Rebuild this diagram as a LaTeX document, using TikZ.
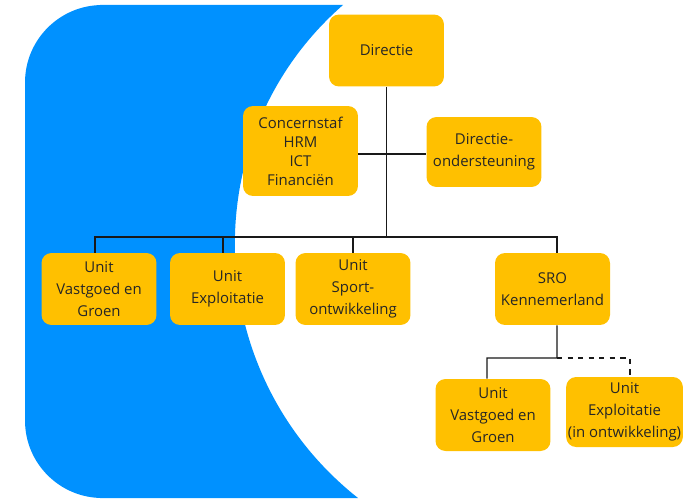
\documentclass[tikz,border=0pt]{standalone}
\usepackage{fontspec}
\setmainfont{Open Sans}
\usetikzlibrary{calc}
\usetikzlibrary{positioning}
\definecolor{unitgold}{HTML}{FFC000}
\definecolor{backblue}{HTML}{0091FF}

\begin{document}
\begin{tikzpicture}[x=0.02cm, y=-0.02cm,
    unitbox/.style={fill=unitgold, rounded corners=0.2cm, align=center,
        minimum width=2.3cm, minimum height=1.44cm, inner sep=1pt,
        text=black!85, font=\fontsize{8.5}{12.5}\selectfont},
    link/.style={line width=0.6pt, black!90}]
    \useasboundingbox (0,0) rectangle (692,500);
    \fill [backblue] (343,5) .. controls (193,136) and (200,373) .. (358,498)
        -- (100,498) [rounded corners=1.55cm] -- (25,498) -- (25,5) [sharp corners] -- (100,5) -- cycle;
    \node [unitbox] (directie) at (386.5,50.5) {Directie};
    \node [unitbox, minimum height=1.8cm, font=\fontsize{8.5}{10.8}\selectfont] (concern) at (300.5,151) {Concernstaf\\HRM\\ICT\\Financiën};
    \node [unitbox, minimum height=1.4cm] (onder) at (484,152) {Directie-\\ondersteuning};
    \node [unitbox] (vastgoed) at (99,289) {Unit\\Vastgoed en\\Groen};
    \node [unitbox] (exploit) at (227.5,289) {Unit\\Exploitatie};
    \node [unitbox] (sport) at (353,289) {Unit\\Sport-\\ontwikkeling};
    \node [unitbox] (sro) at (552.5,289) {SRO\\Kennemerland};
    \node [unitbox] (vastgoedsro) at (493,415) {Unit\\Vastgoed en\\Groen};
    \node [unitbox, minimum height=1.4cm] (exploitsro) at (624.5,412) {Unit\\Exploitatie\\(in ontwikkeling)};
    \coordinate (bus) at (386.5,237);
    \coordinate (staf) at (386.5,154);
    \coordinate (split) at (557,358);
    % drop lines sit a little off the box centres
    \coordinate (vastgoedtop) at ([xshift=-0.08cm]vastgoed.north);
    \coordinate (exploittop) at ([xshift=-0.09cm]exploit.north);
    \coordinate (srotop) at ([xshift=0.09cm]sro.north);
    \coordinate (srobottom) at ([xshift=0.09cm]sro.south);
    \coordinate (vastgoedsrotop) at ([xshift=-0.12cm]vastgoedsro.north);
    \coordinate (exploitsrotop) at ([xshift=0.11cm]exploitsro.north);
    \draw [link] (directie.south) -- (bus);
    \draw [link] (concern.east |- staf) -- (onder.west |- staf);
    \draw [link] (vastgoedtop) -- (vastgoedtop |- bus) -- (srotop |- bus) -- (srotop);
    \draw [link] (exploittop) -- (exploittop |- bus);
    \draw [link] (sport.north) -- (sport.north |- bus);
    \draw [link] (srobottom) -- (split) -| (vastgoedsrotop);
    \draw [link, dashed] (split) -| (exploitsrotop);
\end{tikzpicture}
\end{document}
